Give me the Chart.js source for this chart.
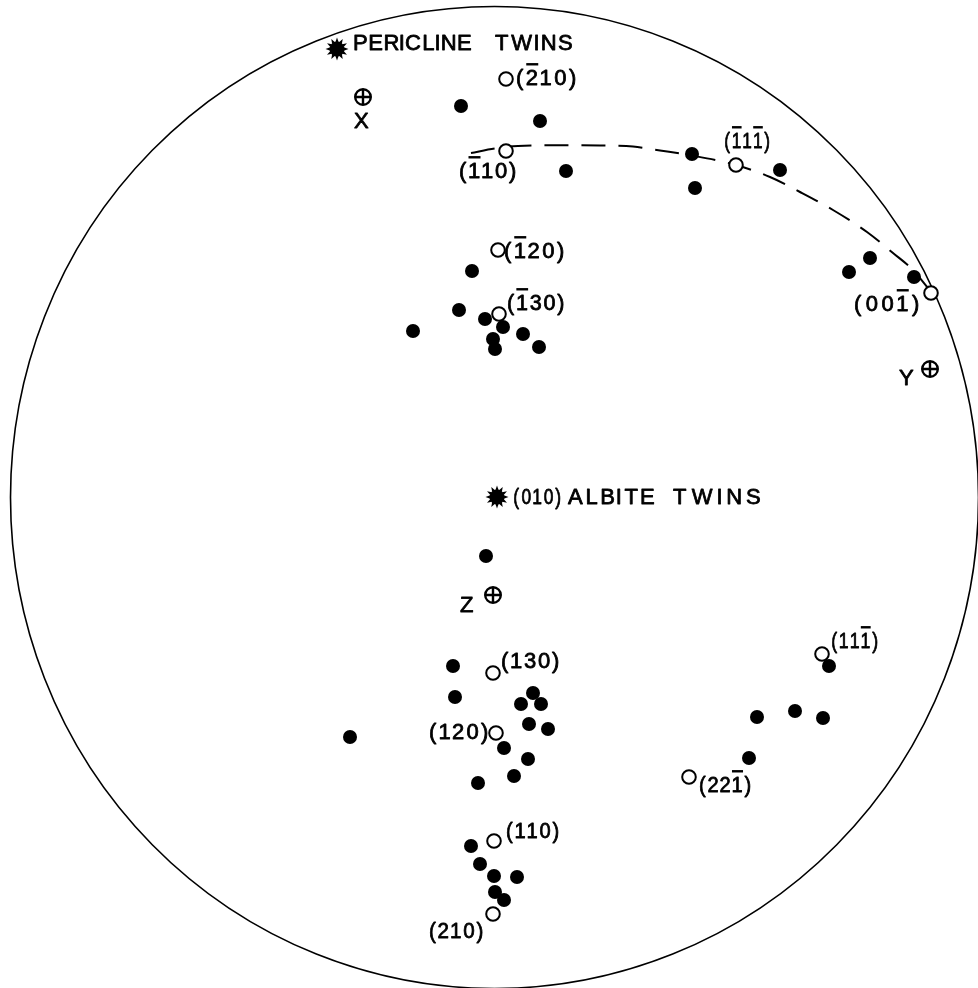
<!DOCTYPE html>
<html><head><meta charset="utf-8">
<script src="https://cdn.jsdelivr.net/npm/chart.js@4/dist/chart.umd.min.js"></script>
<style>html,body{margin:0;padding:0;background:#fff;overflow:hidden}#wrap{width:978px;height:988px}</style>
</head><body><div id="wrap"><canvas id="c" width="978" height="988"></canvas></div>
<script>
// ---- data read from the stereographic projection (projection units = image px) ----
const solidPoles = [
  [461,106],[540,121],[566,171],[692,154],[695,188],[780,170],[849,272],[870,258],[914,277],
  [472,271],[459,310],[413,331],[485,319],[503,327],[493,339],[495,349],[523,334],[539,347],
  [486,556],
  [453,666],[455,697],[533,693],[521,704],[541,704],[529,724],[548,729],[350,737],[504,748],[528,759],[514,776],[478,783],
  [471,846],[480,864],[494,876],[517,877],[495,892],[504,900],
  [829,666],[757,717],[795,711],[823,718],[749,758]
];
const openPoles = [[506,79],[506,151],[736,165],[931,293],[498,250],[499,314],[493,673],[496,733],[494,841],[493,914],[822,654],[689,777]];
const openPoleNames = ["(2̄10)","(1̄10)","(1̄11̄)","(001̄)","(1̄20)","(1̄30)","(130)","(120)","(110)","(210)","(111̄)","(221̄)"];
const twinPoles = [[337,49],[497,497]];
const twinNames = [["PERICLINE","TWINS"],["(010)","ALBITE","TWINS"]];
const indicatrixAxes = [[363,97],[930,369],[493,595]];
const indicatrixNames = ["X","Y","Z"];
const greatCircle = [[471,153],[495,148.5],[518,146],[560,145.3],[600,145.5],[633,146.5],[660,150.5],[692,155.5],[736,165],[770,177],[800,192],[833,210],[867,232],[893,253],[913,270],[928,288]];
const primitive = {cx:494.5, cy:497.5, rx:484, ry:491};

// ---- text placement (left ink x, centre y, target ink width) ----
const openLabelPos = [[517,77,58],[460,170,55],[725,140,44],[855,303,63],[505,250,58],[508,302,55],[502,660,56],[430,731,57],[507,830,51],[430,930,52],[832,640,45],[700,784,50]];
const twinLabelPos = [[[354,42,117],[495,42,77]],[[514,496,46],[568,496,86],[673,496,87]]];
const axisLabelPos = [[354,120,18],[899,377,13],[460,604,13]];

const FONT = '"Liberation Sans", "DejaVu Sans", sans-serif';
const SIZE = 22;
const MIN_GAP = 2;

function makeStar(){
  const c=document.createElement('canvas'); c.width=c.height=26;
  const g=c.getContext('2d'); g.translate(13,13); g.fillStyle='#000';
  g.beginPath(); g.arc(0,0,7.5,0,Math.PI*2); g.fill();
  const n=12;
  for(let i=0;i<n;i++){
    const a=i*2*Math.PI/n;
    g.beginPath();
    g.moveTo(Math.cos(a-0.24)*7,Math.sin(a-0.24)*7);
    g.lineTo(Math.cos(a)*11.5,Math.sin(a)*11.5);
    g.lineTo(Math.cos(a+0.24)*7,Math.sin(a+0.24)*7);
    g.closePath(); g.fill();
  }
  return c;
}
function makeAxisMark(){
  const c=document.createElement('canvas'); c.width=c.height=22;
  const g=c.getContext('2d'); g.translate(11,11);
  g.strokeStyle='#000'; g.lineWidth=2.4;
  g.beginPath(); g.arc(0,0,7.8,0,Math.PI*2); g.stroke();
  g.beginPath(); g.moveTo(-7.8,0); g.lineTo(7.8,0); g.moveTo(0,-7.8); g.lineTo(0,7.8); g.stroke();
  return c;
}

function drawLabel(ctx, xs, ys, text, x, cy, targetW){
  ctx.font = SIZE+'px '+FONT;
  ctx.textAlign='left'; ctx.textBaseline='alphabetic';
  ctx.fillStyle='#000'; ctx.strokeStyle='#000'; ctx.lineWidth=0.8; ctx.lineJoin='round';
  const chars=[];
  for(const ch of text){ if(ch==='\u0304'){ chars[chars.length-1].bar=true; } else chars.push({ch, bar:false}); }
  const m=chars.map(c=>{ const t=ctx.measureText(c.ch); return {l:t.actualBoundingBoxLeft, w:t.actualBoundingBoxLeft+t.actualBoundingBoxRight}; });
  const ink=m.reduce((a,b)=>a+b.w,0);
  const n=chars.length;
  let gap=n>1?(targetW-ink)/(n-1):0, sx=1;
  if(n>1 && gap<MIN_GAP){ gap=MIN_GAP; sx=Math.max(0.6,(targetW-MIN_GAP*(n-1))/ink); }
  let px=xs.getPixelForValue(x);
  const base=ys.getPixelForValue(cy)+SIZE*0.36;
  chars.forEach((c,i)=>{
    ctx.save();
    ctx.translate(px,base); ctx.scale(sx,1);
    ctx.fillText(c.ch,m[i].l,0);
    ctx.strokeText(c.ch,m[i].l,0);
    ctx.restore();
    const w=m[i].w*sx;
    if(c.bar){
      const bw=Math.max(w+1,8);
      ctx.fillRect(px+w/2-bw/2, base-SIZE*0.72-6, bw, 2.4);
    }
    px+=w+gap;
  });
}

const stereoPlugin = {
  id:'stereo',
  beforeDatasetsDraw(chart){
    const {ctx, scales:{x:xs, y:ys}} = chart;
    const cx=xs.getPixelForValue(primitive.cx), cy=ys.getPixelForValue(primitive.cy);
    const rx=Math.abs(xs.getPixelForValue(primitive.cx+primitive.rx)-cx);
    const ry=Math.abs(ys.getPixelForValue(primitive.cy+primitive.ry)-cy);
    ctx.save(); ctx.strokeStyle='#000'; ctx.lineWidth=1.6;
    ctx.beginPath(); ctx.ellipse(cx,cy,rx,ry,0,0,Math.PI*2); ctx.stroke(); ctx.restore();
  },
  afterDatasetsDraw(chart){
    const {ctx, scales:{x:xs, y:ys}} = chart;
    ctx.save();
    openPoleNames.forEach((t,i)=>{ const p=openLabelPos[i]; drawLabel(ctx,xs,ys,t,p[0],p[1],p[2]); });
    twinNames.forEach((words,i)=>{ words.forEach((w,j)=>{ const p=twinLabelPos[i][j]; drawLabel(ctx,xs,ys,w,p[0],p[1],p[2]); }); });
    indicatrixNames.forEach((t,i)=>{ const p=axisLabelPos[i]; drawLabel(ctx,xs,ys,t,p[0],p[1],p[2]); });
    ctx.restore();
  }
};

const toXY = arr => arr.map(p=>({x:p[0], y:p[1]}));

new Chart(document.getElementById('c'), {
  type:'scatter',
  data:{datasets:[
    {label:'Twin poles', data:toXY(twinPoles), pointStyle:makeStar(), pointRadius:10, order:0},
    {label:'Indicatrix axes', data:toXY(indicatrixAxes), pointStyle:makeAxisMark(), pointRadius:9, order:0},
    {label:'Measured poles', data:toXY(solidPoles), pointStyle:'circle', pointRadius:7, pointBackgroundColor:'#000', pointBorderColor:'#000', pointBorderWidth:0, order:1},
    {label:'Crystal faces', data:toXY(openPoles), pointStyle:'circle', pointRadius:6.8, pointBackgroundColor:'#fff', pointBorderColor:'#000', pointBorderWidth:2, order:3},
    {label:'Great circle', type:'line', data:toXY(greatCircle), borderColor:'#000', borderWidth:2, borderDash:[24,13], pointRadius:0, fill:false, cubicInterpolationMode:'monotone', order:5}
  ]},
  options:{
    responsive:false, animation:false, events:[],
    layout:{padding:0, autoPadding:false},
    plugins:{legend:{display:false}, tooltip:{enabled:false}},
    scales:{
      x:{type:'linear', min:0, max:978, display:false},
      y:{type:'linear', min:0, max:988, reverse:true, display:false}
    }
  },
  plugins:[stereoPlugin]
});
</script>
</body></html>
